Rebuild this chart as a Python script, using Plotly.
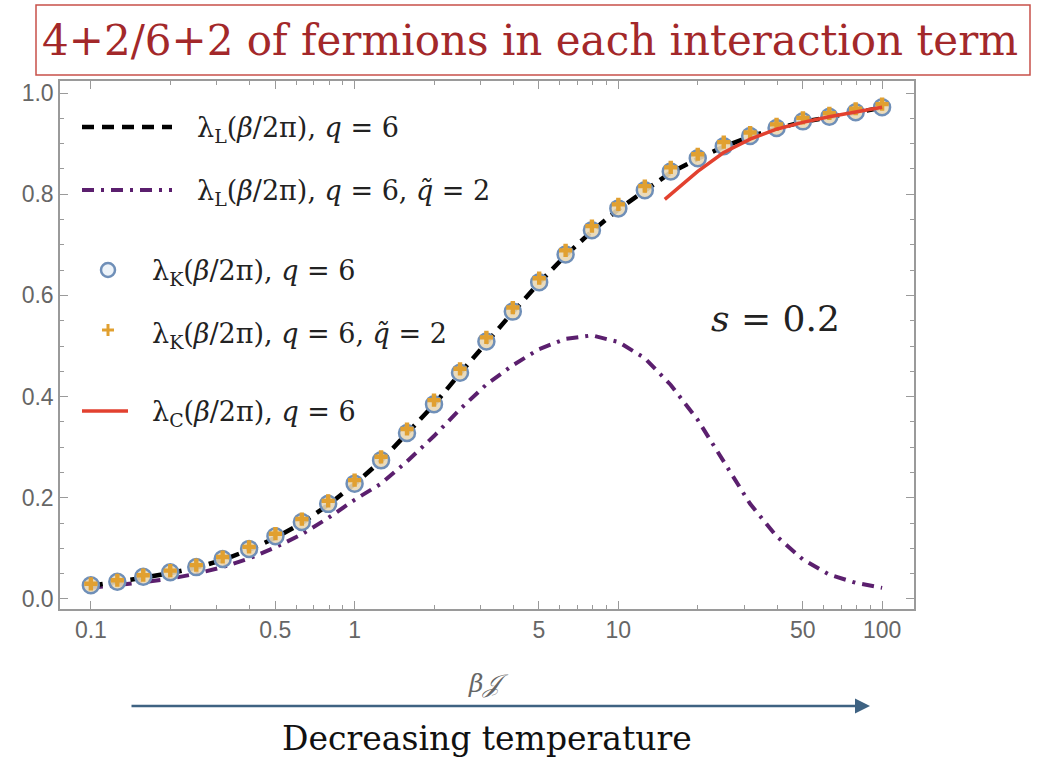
import plotly.graph_objects as go
import numpy as np

# ---------------- data ----------------
beta_J = [0.1, 0.126, 0.158, 0.2, 0.251, 0.316, 0.398, 0.501, 0.631, 0.794,
          1.0, 1.26, 1.58, 2.0, 2.51, 3.16, 3.98, 5.01, 6.31, 7.94,
          10.0, 12.6, 15.8, 20.0, 25.1, 31.6, 39.8, 50.1, 63.1, 79.4, 100.0]

lamL_q6 = [0.026, 0.033, 0.042, 0.051, 0.062, 0.077, 0.097, 0.121, 0.150, 0.186,
           0.227, 0.273, 0.326, 0.384, 0.446, 0.508, 0.567, 0.625, 0.679, 0.727,
           0.770, 0.807, 0.843, 0.870, 0.894, 0.914, 0.930, 0.943, 0.953, 0.962, 0.971]

lamL_q6_qt2 = [0.022, 0.027, 0.033, 0.040, 0.050, 0.063, 0.080, 0.102, 0.128, 0.160,
               0.196, 0.228, 0.272, 0.322, 0.375, 0.424, 0.462, 0.494, 0.514, 0.521,
               0.508, 0.476, 0.423, 0.354, 0.272, 0.188, 0.124, 0.078, 0.048, 0.032, 0.022]

lamK_q6 = [0.027, 0.034, 0.044, 0.053, 0.063, 0.079, 0.099, 0.124, 0.152, 0.188,
           0.228, 0.274, 0.328, 0.385, 0.447, 0.509, 0.568, 0.626, 0.681, 0.729,
           0.772, 0.808, 0.845, 0.871, 0.895, 0.915, 0.931, 0.944, 0.953, 0.962, 0.972]

lamK_q6_qt2 = [0.030, 0.037, 0.047, 0.056, 0.067, 0.083, 0.103, 0.129, 0.158, 0.194,
               0.235, 0.281, 0.336, 0.393, 0.455, 0.517, 0.576, 0.634, 0.689, 0.737,
               0.780, 0.816, 0.853, 0.879, 0.903, 0.922, 0.938, 0.951, 0.960, 0.969, 0.978]

beta_J_C = [15.0, 17.8, 20.0, 25.0, 31.6, 40.0, 50.0, 63.0, 79.0, 100.0]
lamC_q6 = [0.790, 0.822, 0.845, 0.882, 0.909, 0.929, 0.942, 0.953, 0.963, 0.972]

x_ticks = [0.1, 0.5, 1, 5, 10, 50, 100]
x_ticktext = ["0.1", "0.5", "1", "5", "10", "50", "100"]
x_minor = [0.2, 0.3, 0.4, 0.6, 0.7, 0.8, 0.9, 2, 3, 4, 6, 7, 8, 9,
           20, 30, 40, 60, 70, 80, 90]
y_ticks = [0.0, 0.2, 0.4, 0.6, 0.8, 1.0]
y_ticktext = ["0.0", "0.2", "0.4", "0.6", "0.8", "1.0"]

# ---------------- layout geometry ----------------
W, H = 1042, 758
L, R, T, B = 60, 914, 81, 609   # plot frame in pixels


def px(xp):
    return (xp - L) / (R - L)


def py(yp):
    return (B - yp) / (B - T)


SERIF = "DejaVu Serif, Liberation Serif, serif"
SANS = "Liberation Sans, Arial, sans-serif"
PURPLE = "#5b1f6e"
BLUE = "#6f8fb8"
ORANGE = "#e1a030"
RED = "#e2412f"

fig = go.Figure()
fig.add_trace(go.Scatter(x=beta_J, y=lamL_q6_qt2, mode="lines",
                         line=dict(color=PURPLE, width=4, dash="12px,7px,3px,7px"),
                         showlegend=False))
fig.add_trace(go.Scatter(x=beta_J, y=lamL_q6, mode="lines",
                         line=dict(color="black", width=4.5, dash="12px,8px"),
                         showlegend=False))
fig.add_trace(go.Scatter(x=beta_J, y=lamK_q6, mode="markers",
                         marker=dict(symbol="circle", size=16, color="rgba(232,215,180,0.9)",
                                     line=dict(color=BLUE, width=2.5)),
                         showlegend=False))
fig.add_trace(go.Scatter(x=beta_J, y=lamK_q6_qt2, mode="markers",
                         marker=dict(symbol="cross", size=11, color=ORANGE,
                                     line=dict(width=0)),
                         showlegend=False))
fig.add_trace(go.Scatter(x=beta_J_C, y=lamC_q6, mode="lines",
                         line=dict(color=RED, width=3.5),
                         showlegend=False))

shapes = []
annotations = []

# title box
shapes.append(dict(type="rect", xref="paper", yref="paper",
                   x0=px(36), x1=px(1030), y0=py(75), y1=py(5),
                   line=dict(color="#c8504a", width=1.5), fillcolor="white", layer="below"))
annotations.append(dict(xref="paper", yref="paper", x=px(530), y=py(40),
                        text="4+2/6+2 of fermions in each interaction term",
                        showarrow=False, xanchor="center", yanchor="middle",
                        font=dict(family=SERIF, size=42, color="#a3282a")))

# legend (drawn manually)
leg_font = dict(family=SERIF, size=27, color="#222222")
shapes.append(dict(type="line", xref="paper", yref="paper", x0=px(82), x1=px(172),
                   y0=py(127), y1=py(127), line=dict(color="black", width=4.5, dash="12px,8px")))
annotations.append(dict(xref="paper", yref="paper", x=px(195), y=py(129), showarrow=False,
                        xanchor="left", yanchor="middle", font=leg_font,
                        text="λ<sub>L</sub>(<i>β</i>/2π), <i>q</i> = 6"))
shapes.append(dict(type="line", xref="paper", yref="paper", x0=px(82), x1=px(172),
                   y0=py(190), y1=py(190), line=dict(color=PURPLE, width=4, dash="12px,7px,3px,7px")))
annotations.append(dict(xref="paper", yref="paper", x=px(195), y=py(192), showarrow=False,
                        xanchor="left", yanchor="middle", font=leg_font,
                        text="λ<sub>L</sub>(<i>β</i>/2π), <i>q</i> = 6, <i>q̃</i> = 2"))
shapes.append(dict(type="circle", xref="paper", yref="paper", x0=px(101), x1=px(115),
                   y0=py(277), y1=py(263), line=dict(color=BLUE, width=2.5),
                   fillcolor="rgba(225,235,245,0.6)"))
annotations.append(dict(xref="paper", yref="paper", x=px(150), y=py(272), showarrow=False,
                        xanchor="left", yanchor="middle", font=leg_font,
                        text="λ<sub>K</sub>(<i>β</i>/2π), <i>q</i> = 6"))
shapes.append(dict(type="line", xref="paper", yref="paper", x0=px(102), x1=px(114),
                   y0=py(330), y1=py(330), line=dict(color=ORANGE, width=3)))
shapes.append(dict(type="line", xref="paper", yref="paper", x0=px(108), x1=px(108),
                   y0=py(324), y1=py(336), line=dict(color=ORANGE, width=3)))
annotations.append(dict(xref="paper", yref="paper", x=px(150), y=py(335), showarrow=False,
                        xanchor="left", yanchor="middle", font=leg_font,
                        text="λ<sub>K</sub>(<i>β</i>/2π), <i>q</i> = 6, <i>q̃</i> = 2"))
shapes.append(dict(type="line", xref="paper", yref="paper", x0=px(82), x1=px(128),
                   y0=py(411), y1=py(411), line=dict(color=RED, width=3.5)))
annotations.append(dict(xref="paper", yref="paper", x=px(150), y=py(413), showarrow=False,
                        xanchor="left", yanchor="middle", font=leg_font,
                        text="λ<sub>C</sub>(<i>β</i>/2π), <i>q</i> = 6"))

# s = 0.2
annotations.append(dict(xref="paper", yref="paper", x=px(775), y=py(318), showarrow=False,
                        xanchor="center", yanchor="middle",
                        font=dict(family=SERIF, size=36, color="#222222"),
                        text="<i>s</i> = 0.2"))

# axis label
annotations.append(dict(xref="paper", yref="paper", x=px(488), y=py(683), showarrow=False,
                        xanchor="center", yanchor="middle",
                        font=dict(family=SERIF, size=25, color="#666666"),
                        text="<i>β𝒥</i>"))

# arrow
annotations.append(dict(xref="paper", yref="paper", x=px(870), y=py(706),
                        ax=-740, ay=0, axref="pixel", ayref="pixel",
                        showarrow=True, arrowhead=2, arrowsize=1.2, arrowwidth=2.5,
                        arrowcolor="#3e6282", text=""))
annotations.append(dict(xref="paper", yref="paper", x=px(487), y=py(738), showarrow=False,
                        xanchor="center", yanchor="middle",
                        font=dict(family=SERIF, size=33, color="#111111"),
                        text="Decreasing temperature"))

axis_col = "#9a9a9a"
fig.update_layout(
    width=W, height=H,
    margin=dict(l=L, r=W - R, t=T, b=H - B),
    paper_bgcolor="white", plot_bgcolor="white",
    showlegend=False,
    shapes=shapes, annotations=annotations,
    xaxis=dict(type="log", range=[-1.117, 2.121], showgrid=False, zeroline=False,
               tickmode="array", tickvals=x_ticks, ticktext=x_ticktext,
               ticks="inside", ticklen=8, tickwidth=1, tickcolor=axis_col,
               showline=True, linecolor=axis_col, linewidth=1.5, mirror="ticks",
               tickfont=dict(family=SANS, size=23, color="#666666"),
               minor=dict(tickvals=x_minor, ticks="inside", ticklen=4,
                          tickcolor=axis_col, showgrid=False)),
    yaxis=dict(range=[-0.0198, 1.0238], showgrid=False, zeroline=False,
               tickmode="array", tickvals=y_ticks, ticktext=y_ticktext,
               ticks="inside", ticklen=8, tickwidth=1, tickcolor=axis_col,
               showline=True, linecolor=axis_col, linewidth=1.5, mirror="ticks",
               tickfont=dict(family=SANS, size=23, color="#666666"),
               minor=dict(dtick=0.05, ticks="inside", ticklen=4,
                          tickcolor=axis_col, showgrid=False)),
)

fig.write_html("out.html", config={"displayModeBar": False},
               post_script="document.body.style.margin='0';")
